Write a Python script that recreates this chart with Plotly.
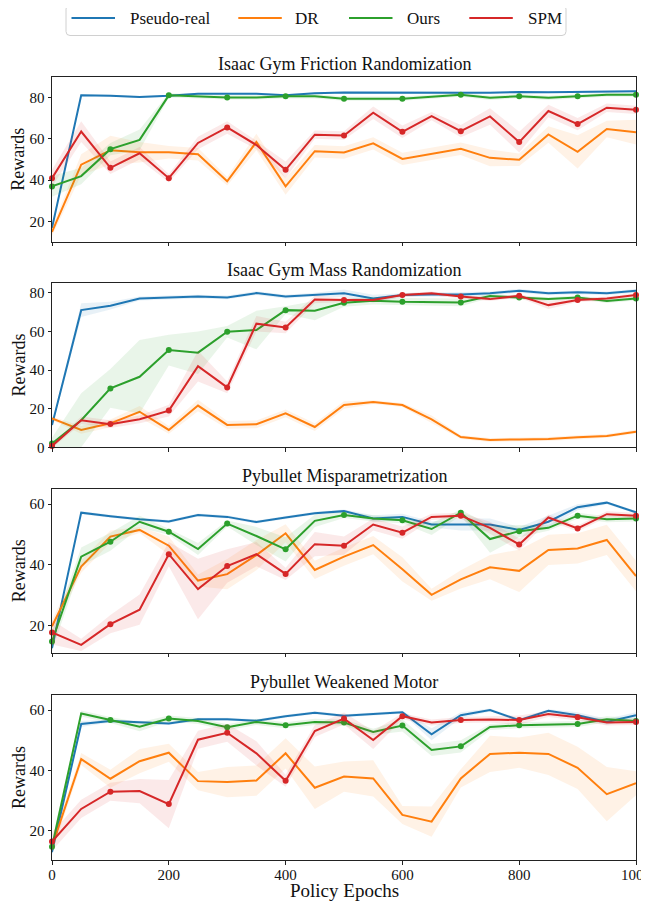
import numpy as np
import plotly.graph_objects as go

epochs = list(range(0, 1001, 50))
methods = ["Pseudo-real", "DR", "Ours", "SPM"]
colors = ["#1f77b4", "#ff7f0e", "#2ca02c", "#d62728"]
fills = ["rgba(31,119,180,0.1)", "rgba(255,127,14,0.1)", "rgba(44,160,44,0.1)", "rgba(214,39,40,0.1)"]
titles = ["Isaac Gym Friction Randomization", "Isaac Gym Mass Randomization",
          "Pybullet Misparametrization", "Pybullet Weakened Motor"]
x_ticks = [0, 200, 400, 600, 800, 1000]
y_ticks = [[20, 40, 60, 80], [0, 20, 40, 60, 80], [20, 40, 60], [20, 40, 60]]
y_ranges = [[10.3, 90], [0, 85.2], [11, 65], [10.4, 65]]

# ---- Isaac Gym Friction Randomization
fric_real = [17, 81, 80.8, 80.2, 80.8, 81.8, 81.8, 81.8, 81.1, 82, 82.4, 82.3, 82.3, 82.2, 82.3, 82.3, 82.6, 82.5, 82.6, 83, 83]
fric_dr = [15, 47.5, 54.5, 53.5, 53.5, 52.5, 39.5, 58.5, 37, 54, 53.4, 57.8, 50.3, 52.8, 55.2, 50.8, 49.9, 62.1, 53.7, 64.7, 63.2]
fric_ours = [37, 42, 55, 59.5, 81, 80.5, 80, 80, 80.5, 80.5, 79.4, 79.4, 79.4, 80.3, 81.3, 79.8, 80.6, 79.8, 80.6, 81.3, 81.3]
fric_spm = [41, 63.5, 46, 53, 41, 58, 65.5, 57, 45, 62, 61.6, 72.6, 63.4, 71, 63.7, 70.8, 58.4, 73.4, 67.1, 75, 74]
fric_real_sd = [2, 0.5, 0.5, 0.5, 0.5, 0.5, 0.5, 0.5, 0.5, 0.5, 0.5, 0.5, 0.5, 0.5, 0.5, 0.5, 0.5, 0.5, 0.5, 0.5, 0.5]
fric_dr_sd = [2, 5, 7, 5, 3, 3, 2, 4, 4, 3, 3, 3, 3, 3, 3, 4, 3, 4, 8, 4, 6]
fric_ours_sd = [5, 4, 3, 5, 1, 1, 1, 1, 1, 1, 1, 1, 1, 1, 1, 1, 1, 1, 1, 1, 1]
fric_spm_sd = [4, 5, 3, 3, 2, 3, 3, 2, 4, 2, 2, 3, 3, 2, 3, 4, 5, 3, 3, 2, 2]

# ---- Isaac Gym Mass Randomization
mass_real = [11.5, 71, 73.3, 77, 77.6, 78, 77.6, 79.8, 78, 79, 79.7, 77, 78.8, 79.1, 79.1, 79.7, 81, 79.7, 80.2, 79.7, 81]
mass_dr = [15, 9, 12.4, 18.4, 9, 21.6, 11.6, 11.9, 17.6, 10.5, 21.9, 23.4, 21.9, 14.5, 5.3, 3.8, 4.1, 4.3, 5.2, 5.9, 8.1]
mass_ours = [2, 14, 30.5, 36.5, 50.3, 49, 59.8, 60.7, 71, 70.7, 74.8, 75.9, 75.3, 75.3, 75, 78.3, 77.6, 76.7, 77.6, 75.7, 77]
mass_spm = [0.7, 14, 12, 14.5, 19, 42, 31, 64, 62, 76.5, 76.2, 76.2, 78.8, 79.7, 78, 76.7, 78.4, 73.6, 76.2, 77, 78.8]
mass_real_sd = [1, 3.5, 2, 1, 1, 1, 1, 1, 1, 1, 2, 2, 1, 1, 1, 1, 1, 1, 1, 1, 1]
mass_dr_sd = [1, 2, 2, 3, 2, 3, 2, 2, 2, 2, 2, 1, 1, 2, 1, 1, 1, 1, 1, 1, 1]
mass_ours_sd = [3, 14, 10, 19, 8, 11, 3, 10, 2, 5, 2, 2, 2, 2, 2, 1, 1, 1, 1, 1, 1]
mass_spm_sd = [1, 2, 2, 2, 3, 8, 3, 4, 3, 2, 1, 1, 1, 1, 1, 1, 1, 2, 1, 1, 1]

# ---- Pybullet Misparametrization
mis_real = [12.5, 57.2, 56, 55, 54.3, 56.4, 55.8, 54.1, 55.6, 57, 57.7, 55.3, 55.8, 53.3, 53.3, 53.3, 51.5, 54.2, 59, 60.5, 57.3]
mis_dr = [19.7, 39.4, 49.3, 51.5, 46.3, 34.8, 36.9, 43.2, 50.4, 38.3, 42.7, 46.5, 38.5, 30.1, 35.2, 39.2, 38, 44.9, 45.4, 48.2, 36.3]
mis_ours = [14.7, 42.7, 47.6, 54.2, 50.9, 45.2, 53.6, 49.5, 45.1, 54.5, 56.4, 55.3, 54.7, 51.8, 57.2, 48.5, 51.1, 52.2, 56.2, 55, 55.3]
mis_spm = [17.7, 13.6, 20.4, 25.2, 43.5, 32, 39.6, 43.5, 37, 46.8, 46.3, 53.3, 50.6, 55.8, 56.2, 52.2, 46.7, 55.6, 52, 56.7, 56.2]
mis_real_sd = [1, 0.5, 0.5, 0.5, 0.5, 0.5, 0.5, 0.5, 0.5, 0.5, 0.5, 1, 1, 1, 2, 2, 1, 2, 1, 0.5, 0.5]
mis_dr_sd = [2, 2, 2, 1, 3, 2, 5, 5, 3, 3, 3, 3, 4, 2, 3, 4, 7, 5, 5, 5, 5]
mis_ours_sd = [3, 3, 3, 2, 1, 2, 1, 3, 4, 2, 1, 1, 1, 2, 1, 4.5, 2, 1, 1, 1, 1]
mis_spm_sd = [4, 2, 3, 5, 4, 10, 5.5, 4, 2, 4, 3, 2, 2, 1, 1, 2, 2, 1, 1, 1, 1]

# ---- Pybullet Weakened Motor
mot_real = [13, 55.4, 56.4, 56.1, 55.6, 57, 57, 56.5, 58, 59.1, 58.1, 58.7, 59.3, 52, 58.3, 60, 56.7, 59.8, 58.3, 56.1, 58.3]
mot_dr = [14.8, 43.8, 37.3, 43.1, 45.9, 36.5, 36.2, 36.7, 45.7, 34.3, 38, 37.4, 25.3, 23.1, 37.4, 45.5, 45.9, 45.5, 40.9, 32.2, 35.8]
mot_ours = [14.8, 58.9, 56.7, 54.5, 57.2, 56.4, 54.3, 56.1, 55, 56.1, 55.9, 52.8, 54.9, 46.8, 48, 54.4, 55, 55.3, 55.4, 57, 56.4]
mot_spm = [16.5, 27.3, 33, 33.2, 28.9, 50.2, 52.5, 45.7, 36.6, 53.1, 57.2, 50.1, 58, 55.9, 56.7, 56.9, 56.7, 58.7, 57.6, 55.9, 56.1]
mot_real_sd = [1, 1, 0.5, 0.5, 0.5, 0.5, 0.5, 0.5, 0.5, 0.5, 0.5, 0.5, 0.5, 2, 1, 0.5, 0.5, 0.5, 1, 1, 1]
mot_dr_sd = [2, 2, 3, 4, 3, 3, 5, 5, 5, 7, 5, 6, 3, 5, 3, 6, 5, 7, 7, 9, 4]
mot_ours_sd = [2, 1, 1, 1.5, 1, 1, 1, 1, 1, 1, 1, 1, 2, 2, 2, 1, 1, 1, 1, 1, 1]
mot_spm_sd = [3, 3, 3, 4, 8, 3, 3, 4, 2, 2, 2, 3, 1, 1, 1, 1, 1.5, 1, 1, 1, 1]

panels = [
    ([fric_real, fric_dr, fric_ours, fric_spm], [fric_real_sd, fric_dr_sd, fric_ours_sd, fric_spm_sd]),
    ([mass_real, mass_dr, mass_ours, mass_spm], [mass_real_sd, mass_dr_sd, mass_ours_sd, mass_spm_sd]),
    ([mis_real, mis_dr, mis_ours, mis_spm], [mis_real_sd, mis_dr_sd, mis_ours_sd, mis_spm_sd]),
    ([mot_real, mot_dr, mot_ours, mot_spm], [mot_real_sd, mot_dr_sd, mot_ours_sd, mot_spm_sd]),
]

# The page body has an 8px margin, so the figure is drawn 8px smaller and
# every page-pixel position below is shifted by OFF.
OFF = 8
W, H = 649 - 2 * OFF, 902 - OFF
L = 52 - OFF
R = W - (636 - OFF)
PW = W - L - R
# panel page-pixel extents (top, bottom)
panel_px = [(76.7, 241.7), (282.7, 447.3), (489.0, 652.7), (695.0, 860.0)]


def fx(px):
    return (px - OFF - L) / PW


def fy(py):
    return 1 - (py - OFF) / H


fig = go.Figure()
x = np.array(epochs)
for p, (means, sds) in enumerate(panels):
    xa = "x" if p == 0 else f"x{p+1}"
    ya = "y" if p == 0 else f"y{p+1}"
    for k in range(4):
        m = np.array(means[k], dtype=float)
        s = np.array(sds[k], dtype=float)
        fig.add_trace(go.Scatter(
            x=np.concatenate([x, x[::-1]]), y=np.concatenate([m + s, (m - s)[::-1]]),
            fill="toself", fillcolor=fills[k], line=dict(width=0), mode="lines",
            hoverinfo="skip", showlegend=False, xaxis=xa, yaxis=ya))
        fig.add_trace(go.Scatter(
            x=x, y=m, mode="lines", line=dict(color=colors[k], width=2),
            name=methods[k], showlegend=False, xaxis=xa, yaxis=ya))
        if k >= 2:
            fig.add_trace(go.Scatter(
                x=x[::2], y=m[::2], mode="markers", marker=dict(color=colors[k], size=6),
                showlegend=False, xaxis=xa, yaxis=ya, cliponaxis=False))

axis_common = dict(showline=True, mirror=True, linecolor="#222", linewidth=1,
                   ticks="outside", ticklen=3.5, tickwidth=0.8, tickcolor="#222",
                   showgrid=False, zeroline=False, automargin=False,
                   tickfont=dict(family="Liberation Serif", size=15, color="#111"))
layout = dict(width=W, height=H, margin=dict(l=L, r=R, t=0, b=0, autoexpand=False),
              paper_bgcolor="white", plot_bgcolor="white",
              font=dict(family="Liberation Serif", color="#111"), showlegend=False)
annotations = []
for p in range(4):
    top, bot = panel_px[p]
    sx = "" if p == 0 else str(p + 1)
    layout[f"xaxis{sx}"] = dict(axis_common, domain=[0, 1], range=[0, 1000], tickvals=x_ticks,
                                showticklabels=(p == 3), anchor=f"y{sx}",
                                ticklabeloverflow="allow", ticklabelstandoff=-3)
    layout[f"yaxis{sx}"] = dict(axis_common, domain=[fy(bot), fy(top)], range=y_ranges[p],
                                tickvals=y_ticks[p], anchor=f"x{sx}")
    annotations.append(dict(text=titles[p], x=0.5, xref="paper", y=fy(top), yref="paper",
                            xanchor="center", yanchor="bottom", yshift=1, showarrow=False,
                            font=dict(size=18, color="#111")))
    annotations.append(dict(text="Rewards", x=fx(18.5), xref="paper", y=fy((top + bot) / 2),
                            yref="paper", xanchor="center", yanchor="middle", textangle=-90,
                            showarrow=False, font=dict(size=18, color="#111")))
annotations.append(dict(text="Policy Epochs", x=0.5, xref="paper", y=fy(890.5), yref="paper",
                        xanchor="center", yanchor="middle", showarrow=False,
                        font=dict(size=19, color="#111")))

# legend box (drawn by hand to match the reference's expanded legend row)
shapes = []
bx0, bx1, by0, by1, r = 66, 566, 5, 35.5, 4
rx = r / PW
ry = r / H
X0, X1, Y0, Y1 = fx(bx0), fx(bx1), fy(by1), fy(by0)
path = (f"M {X0+rx},{Y1} L {X1-rx},{Y1} Q {X1},{Y1} {X1},{Y1-ry} L {X1},{Y0+ry} "
        f"Q {X1},{Y0} {X1-rx},{Y0} L {X0+rx},{Y0} Q {X0},{Y0} {X0},{Y0+ry} "
        f"L {X0},{Y1-ry} Q {X0},{Y1} {X0+rx},{Y1} Z")
shapes.append(dict(type="path", path=path, xref="paper", yref="paper",
                   line=dict(color="#d0d0d0", width=1), fillcolor="white"))
line_starts = [71.5, 238.3, 349.0, 469.3]
text_starts = [128.0, 293.3, 405.0, 525.7]
for k in range(4):
    shapes.append(dict(type="line", xref="paper", yref="paper",
                       x0=fx(line_starts[k]), x1=fx(line_starts[k] + 43.5),
                       y0=fy(18), y1=fy(18), line=dict(color=colors[k], width=2)))
    annotations.append(dict(text=methods[k], x=fx(text_starts[k]), xref="paper", y=fy(19),
                            yref="paper", xanchor="left", yanchor="middle", showarrow=False,
                            font=dict(size=17, color="#111")))
layout["shapes"] = shapes
layout["annotations"] = annotations
fig.update_layout(**layout)
fig.write_html("out.html")
